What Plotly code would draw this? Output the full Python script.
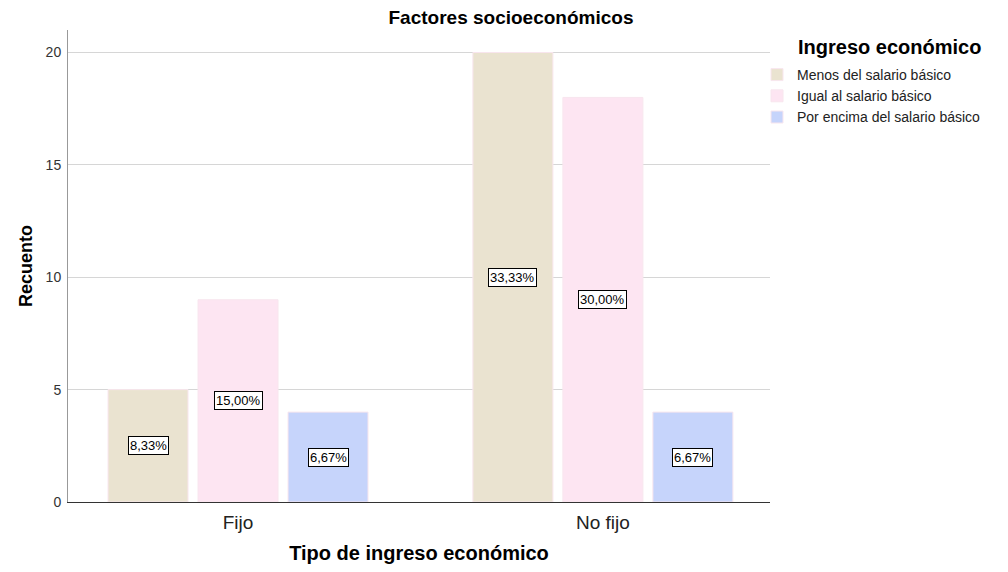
import plotly.graph_objects as go

categories = ["Fijo", "No fijo"]
series_names = ["Menos del salario básico", "Igual al salario básico", "Por encima del salario básico"]
counts = [
    [5, 20],
    [9, 18],
    [4, 4],
]
percent_labels = [
    ["8,33%", "33,33%"],
    ["15,00%", "30,00%"],
    ["6,67%", "6,67%"],
]
colors = ["#EAE3D0", "#FDE5F2", "#C6D4FB"]

FONT = "Liberation Sans, Arial, sans-serif"
BARGAP = 0.26
BARGROUPGAP = 0.111
W, H = 992, 556  # page has an 8px body margin

fig = go.Figure()
for name, vals, col in zip(series_names, counts, colors):
    fig.add_trace(go.Bar(
        x=categories, y=vals, name=name,
        marker=dict(color=col, line=dict(color="#F8E6EE", width=1)),
    ))

# percentage labels at bar midpoints
nser = len(series_names)
slot = (1 - BARGAP) / nser
for si in range(nser):
    for ci in range(len(categories)):
        xpos = ci + (si - (nser - 1) / 2) * slot
        fig.add_annotation(
            x=xpos, y=counts[si][ci] / 2, xref="x", yref="y",
            text=percent_labels[si][ci], showarrow=False,
            font=dict(family=FONT, size=13, color="#000000"),
            bgcolor="white", bordercolor="#000000", borderwidth=1, borderpad=1,
        )

# legend title (indented like the reference)
fig.add_annotation(
    text="<b>Ingreso económico</b>", xref="paper", yref="paper",
    x=(788 - 60) / (762 - 60), y=1 - (39 - 22) / (494 - 22),
    xanchor="left", yanchor="middle", showarrow=False,
    font=dict(family=FONT, size=20, color="#000000"),
)

fig.update_layout(
    width=W, height=H,
    paper_bgcolor="white", plot_bgcolor="white",
    margin=dict(l=60, r=230, t=22, b=62, autoexpand=False),
    barmode="group", bargap=BARGAP, bargroupgap=BARGROUPGAP,
    font=dict(family=FONT, color="#222222"),
    title=dict(text="<b>Factores socioeconómicos</b>", x=503 / W, xref="container",
               xanchor="center", y=1 - 9 / H, yref="container", yanchor="middle",
               font=dict(family=FONT, size=19, color="#000000")),
    legend=dict(
        font=dict(family=FONT, size=14, color="#222222"),
        xref="container", yref="container",
        x=749 / W, y=1 - 51 / H, xanchor="left", yanchor="top",
        bgcolor="rgba(0,0,0,0)", tracegroupgap=0,
    ),
    xaxis=dict(
        type="category", range=[-0.466, 1.458], automargin=False,
        showline=True, linecolor="#333333", linewidth=1,
        ticks="outside", ticklen=3, tickcolor="rgba(0,0,0,0)",
        tickfont=dict(family=FONT, size=19, color="#222222"),
        title=dict(text="<b>Tipo de ingreso económico</b>", font=dict(family=FONT, size=20, color="#000000"), standoff=19),
        showgrid=False,
    ),
    yaxis=dict(
        range=[0, 21], tickvals=[0, 5, 10, 15, 20], automargin=False,
        showline=True, linecolor="#999999", linewidth=1,
        ticks="outside", ticklen=3, tickcolor="rgba(0,0,0,0)",
        tickfont=dict(family=FONT, size=14, color="#333333"),
        showgrid=True, gridcolor="#D6D6D6", gridwidth=1,
        zeroline=False,
        title=dict(text="<b>Recuento</b>", font=dict(family=FONT, size=18, color="#000000"), standoff=8),
    ),
)

fig.write_html("out.html")
